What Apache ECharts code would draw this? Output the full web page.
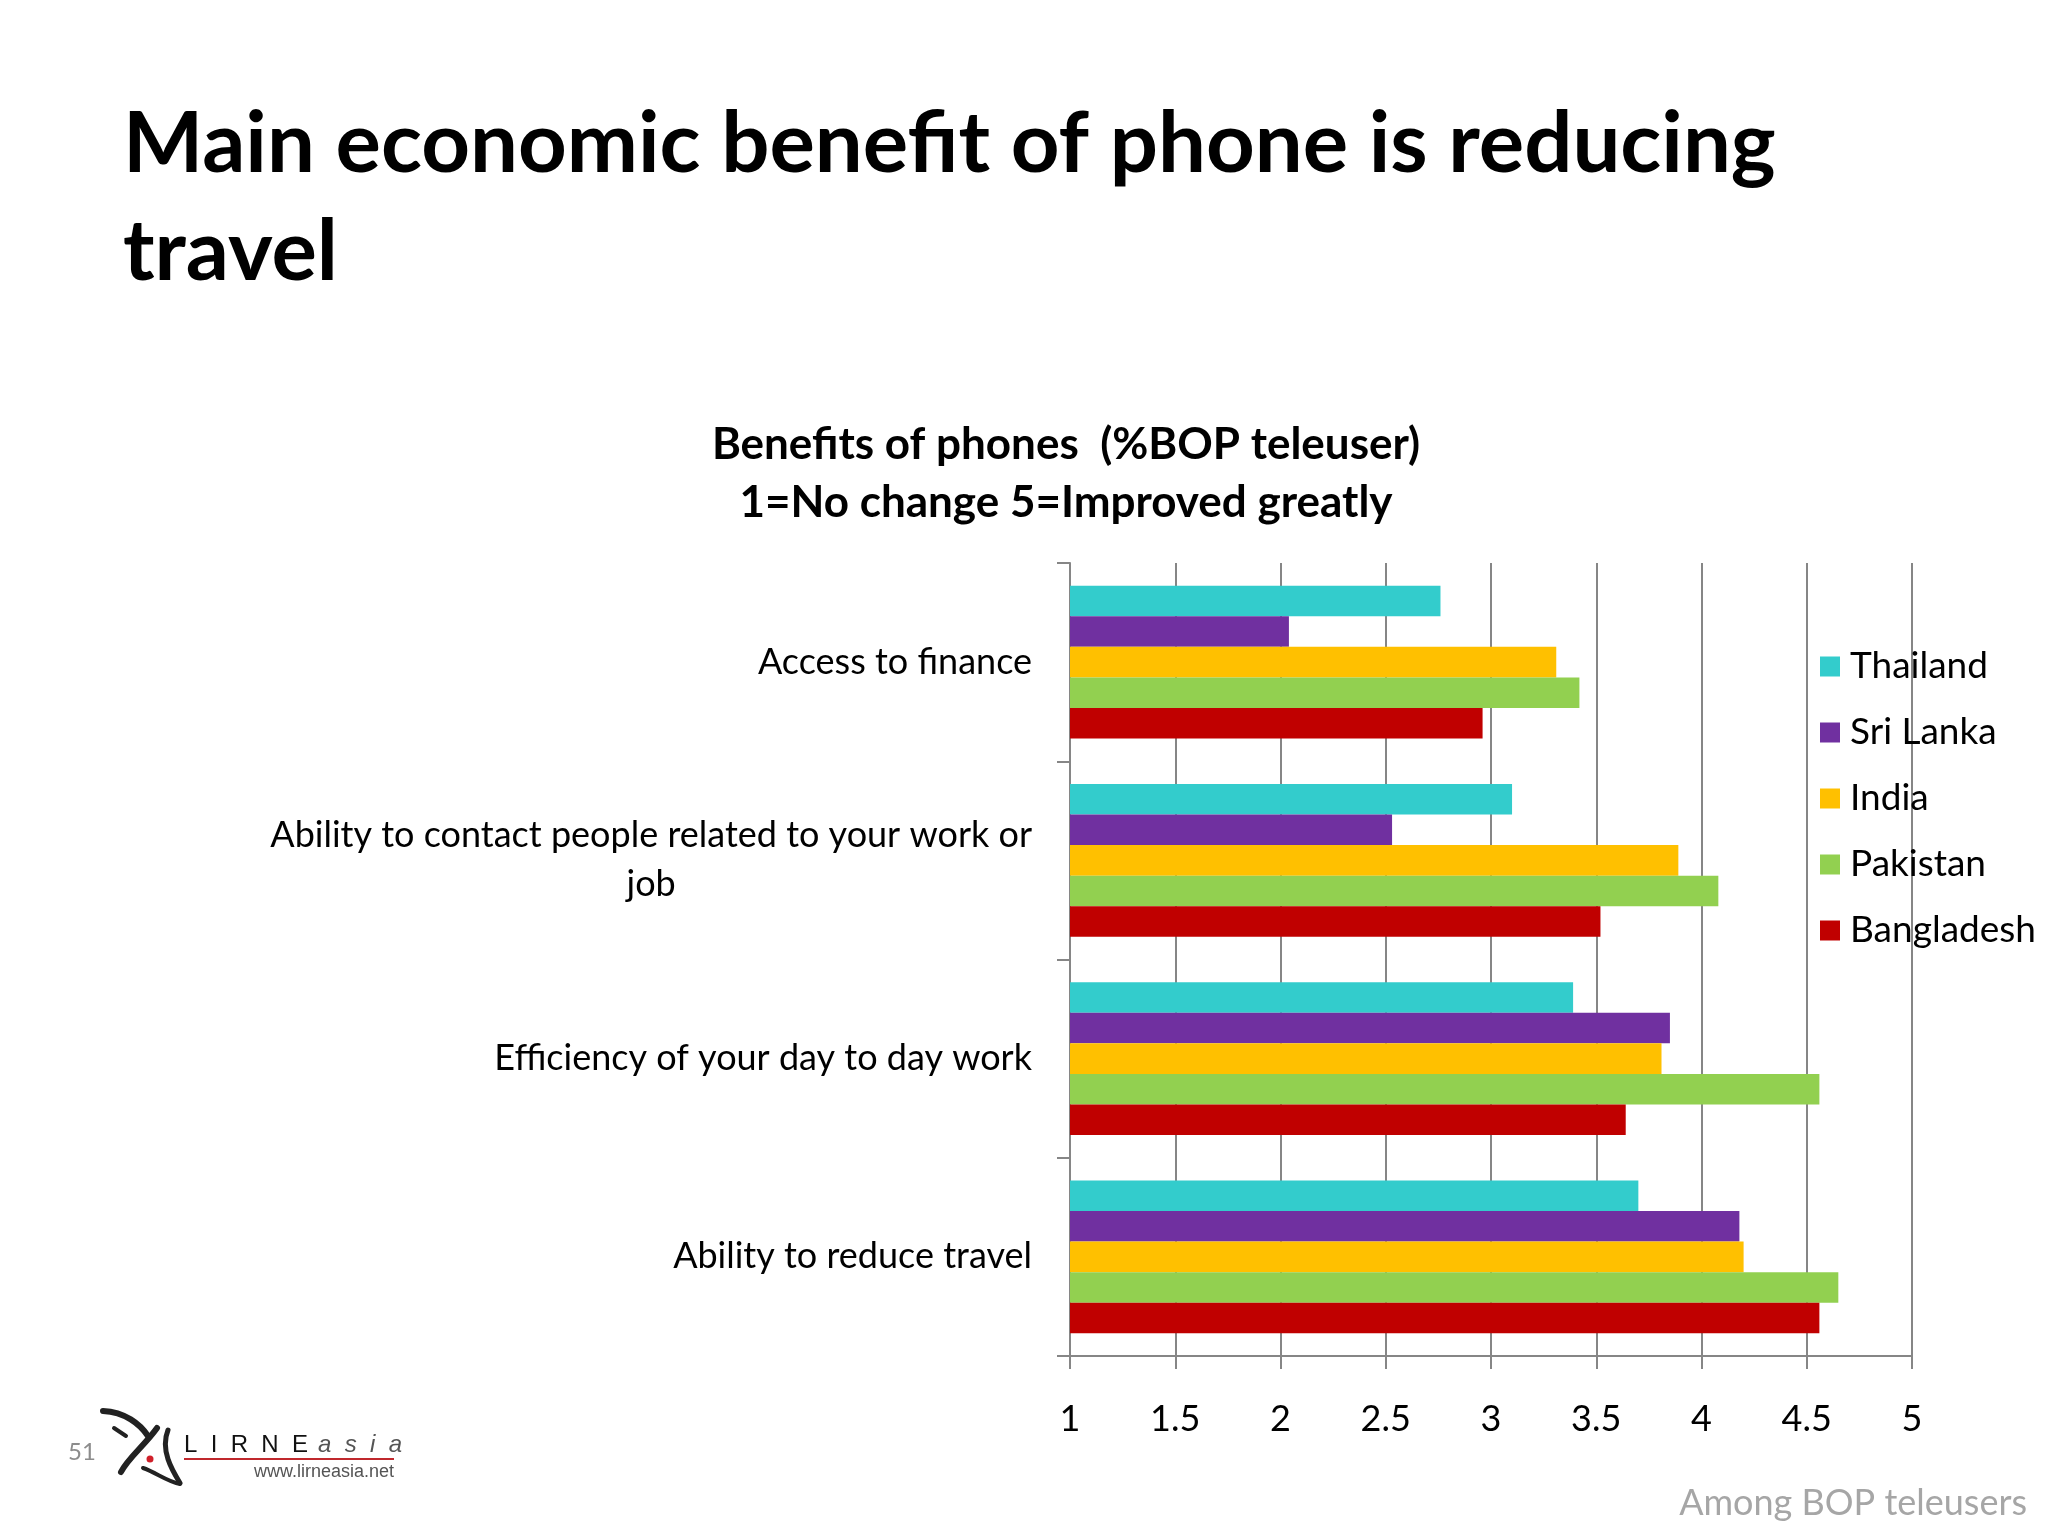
<!DOCTYPE html>
<html>
<head>
<meta charset="utf-8">
<script src="https://cdn.jsdelivr.net/npm/echarts@6/dist/echarts.min.js"></script>
<style>
html,body{margin:0;padding:0;background:#fff;}
#chart{width:2048px;height:1536px;}
</style>
</head>
<body>
<div id="chart"></div>
<script>
const categories = [
  'Access to finance',
  'Ability to contact people related to your work or job',
  'Efficiency of your day to day work',
  'Ability to reduce travel'
];
const seriesNames = ['Thailand', 'Sri Lanka', 'India', 'Pakistan', 'Bangladesh'];
const thailand   = [2.76, 3.10, 3.39, 3.70];
const sriLanka   = [2.04, 2.53, 3.85, 4.18];
const india      = [3.31, 3.89, 3.81, 4.20];
const pakistan   = [3.42, 4.08, 4.56, 4.65];
const bangladesh = [2.96, 3.52, 3.64, 4.56];
const xMin = 1, xMax = 5, xStep = 0.5;

const colors = ['#33CCCC', '#7030A0', '#FFC000', '#92D050', '#C00000'];
const values = [thailand, sriLanka, india, pakistan, bangladesh];
const FONT = 'Lato, "Open Sans", sans-serif';
const GRID_COLOR = '#868686';

const chart = echarts.init(document.getElementById('chart'), null, {renderer: 'canvas'});

const option = {
  backgroundColor: '#ffffff',
  animation: false,
  title: [
    {
      text: 'Main economic benefit of phone is reducing\ntravel',
      left: 118, top: 86,
      textStyle: {fontFamily: FONT, fontWeight: 'bold', fontSize: 85, lineHeight: 108, color: '#000'}
    },
    {
      text: 'Benefits of phones  (%BOP teleuser)\n1=No change 5=Improved greatly',
      left: 1061, top: 411, textAlign: 'center',
      textStyle: {fontFamily: FONT, fontWeight: 'bold', fontSize: 44, lineHeight: 58, color: '#000', align: 'center'}
    }
  ],
  legend: {
    orient: 'vertical',
    left: 1815, top: 643,
    itemWidth: 20, itemHeight: 20, itemGap: 29,
    icon: 'rect',
    data: seriesNames,
    textStyle: {fontFamily: FONT, fontSize: 37, lineHeight: 37, color: '#000', padding: [0, 0, 0, 5]}
  },
  grid: {left: 1070, right: 136, top: 563, bottom: 180, containLabel: false},
  xAxis: {
    type: 'value', min: xMin, max: xMax, interval: xStep,
    axisLine: {show: true, lineStyle: {color: GRID_COLOR, width: 2}},
    axisTick: {show: true, length: 13, lineStyle: {color: GRID_COLOR, width: 2}},
    splitLine: {show: true, lineStyle: {color: GRID_COLOR, width: 2}},
    axisLabel: {fontFamily: FONT, fontSize: 36, color: '#000', margin: 45}
  },
  yAxis: {
    type: 'category', data: categories, inverse: true,
    axisLine: {show: true, lineStyle: {color: GRID_COLOR, width: 2}},
    axisTick: {show: true, length: 13, lineStyle: {color: GRID_COLOR, width: 2}},
    splitLine: {show: false},
    axisLabel: {
      margin: 38, color: '#000', fontFamily: FONT, fontSize: 36, lineHeight: 49,
      formatter: function (v) {
        if (v.length > 40) {
          const i = v.lastIndexOf(' ');
          return '{c|' + v.slice(0, i) + '}\n{c|' + v.slice(i + 1) + '}';
        }
        return '{c|' + v + '}';
      },
      rich: {c: {align: 'center', fontFamily: FONT, fontSize: 36, lineHeight: 49, color: '#000'}}
    }
  },
  series: seriesNames.map((name, k) => ({
    name: name, type: 'bar', data: values[k],
    barGap: '0%', barCategoryGap: '23%',
    itemStyle: {color: colors[k]}
  })),
  graphic: [
    {type: 'text', x: 2027, y: 1503, style: {text: 'Among BOP teleusers', fontFamily: FONT, fontSize: 36, fill: '#A6A6A6', textAlign: 'right', verticalAlign: 'middle'}},
    {type: 'text', x: 68, y: 1452, style: {text: '51', fontFamily: FONT, fontSize: 24, fill: '#8C8C8C', verticalAlign: 'middle'}},
    {type: 'text', x: 184, y: 1445, style: {text: 'L  I  R  N  E', fontFamily: 'Liberation Sans, sans-serif', fontSize: 24, fill: '#111', verticalAlign: 'middle'}},
    {type: 'text', x: 318, y: 1445, style: {text: 'a  s  i  a', fontFamily: 'Liberation Sans, sans-serif', fontStyle: 'italic', fontSize: 24, fill: '#555', verticalAlign: 'middle'}},
    {type: 'line', shape: {x1: 184, y1: 1459, x2: 394, y2: 1459}, style: {stroke: '#C0282D', lineWidth: 2}},
    {type: 'text', x: 394, y: 1472, style: {text: 'www.lirneasia.net', fontFamily: 'Liberation Sans, sans-serif', fontSize: 18, fill: '#555', textAlign: 'right', verticalAlign: 'middle'}},
    {type: 'bezierCurve', shape: {x1: 103, y1: 1411, x2: 148, y2: 1436, cpx1: 125, cpy1: 1412, cpx2: 140, cpy2: 1424}, style: {stroke: '#222', lineWidth: 6, lineCap: 'round', fill: 'none'}},
    {type: 'line', shape: {x1: 114, y1: 1428, x2: 126, y2: 1436}, style: {stroke: '#222', lineWidth: 4, lineCap: 'round'}},
    {type: 'bezierCurve', shape: {x1: 157, y1: 1428, x2: 121, y2: 1472, cpx1: 145, cpy1: 1445, cpx2: 128, cpy2: 1458}, style: {stroke: '#222', lineWidth: 6, lineCap: 'round', fill: 'none'}},
    {type: 'bezierCurve', shape: {x1: 168, y1: 1430, x2: 180, y2: 1483, cpx1: 160, cpy1: 1450, cpx2: 172, cpy2: 1470}, style: {stroke: '#222', lineWidth: 5, lineCap: 'round', fill: 'none'}},
    {type: 'bezierCurve', shape: {x1: 143, y1: 1468, x2: 180, y2: 1484, cpx1: 155, cpy1: 1472, cpx2: 168, cpy2: 1482}, style: {stroke: '#222', lineWidth: 4, lineCap: 'round', fill: 'none'}},
    {type: 'circle', shape: {cx: 150, cy: 1459, r: 3.5}, style: {fill: '#D0202A'}}
  ]
};
chart.setOption(option);
</script>
</body>
</html>
